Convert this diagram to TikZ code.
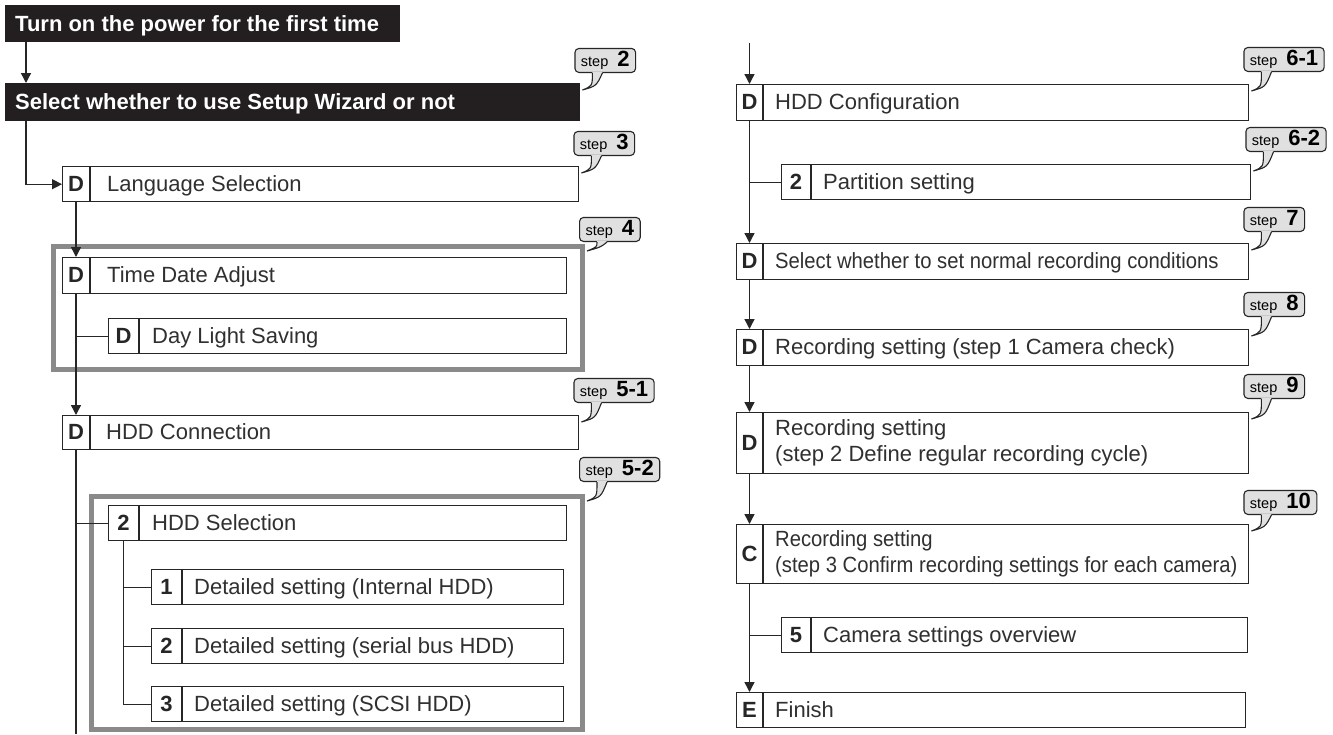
\documentclass[tikz,border=0pt]{standalone}
\usepackage{fontspec}
\setmainfont{Liberation Sans}
\newfontfamily\condf[FakeStretch=0.92]{Liberation Sans}
\usetikzlibrary{arrows.meta,calc}
\definecolor{ink}{HTML}{262626}
\definecolor{txc}{HTML}{303030}
\definecolor{blk}{HTML}{231F20}
\definecolor{frm}{HTML}{8A8A8A}
\definecolor{bubf}{HTML}{E0E0E0}
\tikzset{
  boxsty/.style={draw=ink, line width=1.4pt, rectangle, anchor=north west, inner sep=0pt, fill=white},
  divline/.style={draw=ink, line width=1.4pt},
  lab/.style={font=\fontsize{22}{22}\selectfont\bfseries, text=ink, inner sep=0pt, text height=15.7pt, text depth=0pt},
  txtL/.style={font=\fontsize{22}{26}\selectfont, text=txc, inner sep=0pt, anchor=west, align=left, text height=15.7pt, text depth=0pt},
  txt/.style={txtL},
  conn/.style={draw=ink, line width=1.4pt},
  arr/.style={conn, -{Triangle[length=10pt,width=10pt]}},
  frame/.style={draw=frm, line width=5pt, rectangle, anchor=north west, inner sep=0pt},
  hdr/.style={fill=blk, rectangle, anchor=north west, inner sep=0pt},
  hdrtxt/.style={font=\fontsize{22}{22}\selectfont\bfseries, text=white, anchor=west, inner sep=0pt, text height=15.7pt, text depth=0pt},
  bub/.style={draw=ink, line width=1.1pt, fill=bubf, rounded corners=4pt, minimum height=24pt, inner xsep=6pt, inner ysep=0pt, anchor=south west},
}
% #1 name, #2 x1, #3 y1, #4 x2, #5 y2, #6 divider x, #7 label, #8 text x, #9 text
\newcommand{\mkbox}[9]{%
  \node[boxsty, minimum width={(#4-#2)*1pt}, minimum height={(#5-#3)*1pt}] (#1) at (#2,#3) {};
  \draw[divline] (#6,#3) -- (#6,#5);
  \node[lab] (#1l) at ({(#2+#6)/2},{(#3+#5)/2}) {#7};
  \node[txt] (#1t) at (#8,{(#3+#5)/2}) {#9};
}
% #1 name, #2 target node, #3 number, #4 gap between bubble bottom and target top
\newcommand{\mkbub}[4]{%
  \coordinate (#1tip) at ([xshift=2pt,yshift=-7pt]#2.north east);
  \node[bub] (#1) at ([xshift=-8pt,yshift={(7+#4)*1pt}]#1tip) {{\fontsize{14.5}{14.5}\selectfont step}\hspace{9pt}{\fontsize{22}{22}\selectfont\bfseries #3}};
  \fill[bubf] ([xshift=10pt,yshift={(7.8+#4)*1pt}]#1tip) .. controls ([xshift=10pt,yshift=4pt]#1tip) .. (#1tip) .. controls ([xshift=14pt,yshift=4pt]#1tip) .. ([xshift=20pt,yshift={(7.8+#4)*1pt}]#1tip) -- cycle;
  \draw[ink, line width=1.1pt] ([xshift=10pt,yshift={(7+#4)*1pt}]#1tip) .. controls ([xshift=10pt,yshift=4pt]#1tip) .. (#1tip) .. controls ([xshift=14pt,yshift=4pt]#1tip) .. ([xshift=20pt,yshift={(7+#4)*1pt}]#1tip);
}
\begin{document}
\begin{tikzpicture}[x=1pt,y=-1pt]
\useasboundingbox (0,0) rectangle (1333,734);
\fill[white] (0,0) rectangle (1333,734);

% header boxes
\node[hdr, minimum width=395pt, minimum height=37pt] (b1) at (5,5) {};
\node[hdrtxt] (b1t) at (15,23.5) {Turn on the power for the first time};
\node[hdr, minimum width=575pt, minimum height=38pt] (b2) at (5,83) {};
\node[hdrtxt] (b2t) at (15,102) {Select whether to use Setup Wizard or not};

% grey frames
\node[frame, minimum width=529pt, minimum height=123pt] (f4) at (51,244) {};
\node[frame, minimum width=491pt, minimum height=233pt] (f52) at (89,494) {};

% left column
\mkbox{lang}{62}{166}{578}{201}{90}{D}{107}{Language Selection}
\mkbox{tda}{62}{257}{566}{293}{90}{D}{107}{Time Date Adjust}
\mkbox{dls}{108}{318}{566}{353}{139}{D}{152}{Day Light Saving}
\mkbox{hddc}{62}{415}{578}{449}{90}{D}{106}{HDD Connection}
\mkbox{hsel}{108}{505}{566}{540}{139}{2}{152}{HDD Selection}
\mkbox{detA}{151}{569}{563}{604}{182}{1}{194}{Detailed setting (Internal HDD)}
\mkbox{detB}{151}{628}{563}{663}{182}{2}{194}{Detailed setting (serial bus HDD)}
\mkbox{detC}{151}{686}{563}{721}{182}{3}{194}{Detailed setting (SCSI HDD)}

% right column
\mkbox{cfg}{736}{84}{1248}{120}{763}{D}{775}{HDD Configuration}
\mkbox{part}{781}{164}{1250}{199}{811}{2}{823}{Partition setting}
\mkbox{nsel}{736}{243}{1248}{279}{763}{D}{775}{\condf Select whether to set normal recording conditions}
\mkbox{recA}{736}{329}{1248}{365}{763}{D}{775}{Recording setting (step 1 Camera check)}
\begin{scope}[txt/.append style={text height={}, text depth={}}]
\mkbox{recB}{736}{412}{1248}{473}{763}{D}{775}{Recording setting\\(step 2 Define regular recording cycle)}
\mkbox{recC}{736}{524}{1248}{583}{763}{C}{775}{\condf Recording setting\\\condf (step 3 Confirm recording settings for each camera)}
\end{scope}
\mkbox{cam}{781}{617}{1247}{652}{811}{5}{823}{Camera settings overview}
\mkbox{fin}{736}{692}{1245}{727}{763}{E}{775}{Finish}

% free ends
\coordinate (rtop) at (750,43);
\coordinate (lbot) at (76,734);

% connectors, left
\draw[arr] ([xshift=21pt]b1.south west) -- ([xshift=21pt]b2.north west);
\draw[arr] ([xshift=21pt]b2.south west) |- (lang.west);
\draw[arr] (langl |- lang.south) -- (tdal |- tda.north);
\draw[arr] (tdal |- tda.south) -- (hddcl |- hddc.north);
\draw[conn] (tdal |- dls.west) -- (dls.west);
\draw[conn] (hddcl |- hddc.south) -- (hddcl |- lbot);
\draw[conn] (hddcl |- hsel.west) -- (hsel.west);
\draw[conn] (hsell |- hsel.south) |- (detC.west);
\draw[conn] (hsell |- detA.west) -- (detA.west);
\draw[conn] (hsell |- detB.west) -- (detB.west);

% connectors, right
\draw[arr] (cfgl |- rtop) -- (cfgl |- cfg.north);
\draw[arr] (cfgl |- cfg.south) -- (nsell |- nsel.north);
\draw[conn] (cfgl |- part.west) -- (part.west);
\draw[arr] (nsell |- nsel.south) -- (recAl |- recA.north);
\draw[arr] (recAl |- recA.south) -- (recBl |- recB.north);
\draw[arr] (recBl |- recB.south) -- (recCl |- recC.north);
\draw[arr] (recCl |- recC.south) -- (finl |- fin.north);
\draw[conn] (recCl |- cam.west) -- (cam.west);

% step bubbles
\mkbub{sA}{b2}{2}{10}
\mkbub{sB}{lang}{3}{10}
\mkbub{sC}{f4}{4}{2}
\mkbub{sD}{hddc}{5-1}{12}
\mkbub{sE}{f52}{5-2}{12}
\mkbub{sF}{cfg}{6-1}{12}
\mkbub{sG}{part}{6-2}{12}
\mkbub{sH}{nsel}{7}{11}
\mkbub{sI}{recA}{8}{12}
\mkbub{sJ}{recB}{9}{13}
\mkbub{sK}{recC}{10}{9}
\end{tikzpicture}
\end{document}
